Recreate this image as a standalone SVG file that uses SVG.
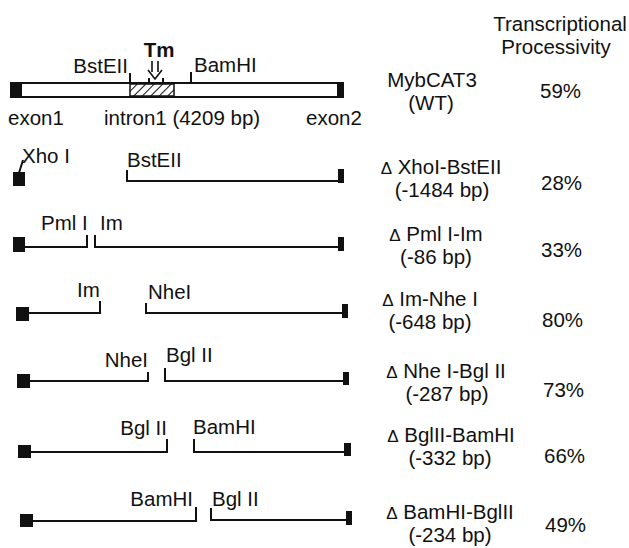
<svg xmlns="http://www.w3.org/2000/svg" width="629" height="548" viewBox="0 0 629 548">
<defs>
<pattern id="hatch" patternUnits="userSpaceOnUse" width="6" height="6" patternTransform="rotate(45)">
<line x1="0" y1="0" x2="0" y2="6" stroke="#111" stroke-width="2"/>
</pattern>
</defs>
<style>
text{font-family:"Liberation Sans",Arial,Helvetica,sans-serif;font-size:20.5px;fill:#111}
.m{text-anchor:middle}
.e{text-anchor:end}
.d{font-size:17px}
.b{font-weight:bold}
.ln{stroke:#111;stroke-width:2;fill:none}
.ex{fill:#111}
</style>
<rect width="629" height="548" fill="#fff"/>

<g id="header">
<text class="m" x="560" y="31">Transcriptional</text>
<text class="m" x="556" y="54">Processivity</text>
</g>

<g id="wt">
<rect x="11" y="83" width="332" height="14" fill="#fff" stroke="#111" stroke-width="2"/>
<rect x="130" y="84" width="44" height="12" fill="url(#hatch)" stroke="#111" stroke-width="1.5"/>
<rect class="ex" x="10" y="82" width="12" height="16"/>
<rect class="ex" x="337" y="82" width="7" height="16"/>
<path class="ln" d="M130 73V83M149 78V83M163 78V83M191 72V83"/>
<path d="M152 61V72M158 61V72M148 70L155 79L162 70" stroke="#111" stroke-width="1.6" fill="none"/>
<text class="m b" x="159" y="57">Tm</text>
<text class="e" x="128" y="73">BstEII</text>
<text x="194" y="72">BamHI</text>
<text x="8" y="125">exon1</text>
<text x="104" y="125">intron1 (4209 bp)</text>
<text x="306" y="125">exon2</text>
<text class="m" x="432" y="87">MybCAT3</text>
<text class="m" x="431" y="110">(WT)</text>
<text x="540" y="98">59%</text>
</g>

<g id="xho-bst">
<rect class="ex" x="13" y="172" width="12" height="14"/>
<path class="ln" d="M19 173L23 160" stroke-width="1.5"/>
<path class="ln" d="M127 170V181H338"/>
<rect class="ex" x="338" y="169" width="6" height="14"/>
<text x="22" y="163">Xho I</text>
<text x="127" y="167">BstEII</text>
<text class="m" x="441" y="174"><tspan class="d">Δ</tspan> XhoI-BstEII</text>
<text class="m" x="442" y="197">(-1484 bp)</text>
<text x="541" y="190">28%</text>
</g>

<g id="pml-im">
<rect class="ex" x="13" y="237" width="12" height="15"/>
<path class="ln" d="M25 247H87V235M95 235V247H338"/>
<rect class="ex" x="338" y="237" width="6" height="14"/>
<text x="41" y="230">Pml I</text>
<text x="100" y="230">Im</text>
<text class="m" x="436" y="241"><tspan class="d">Δ</tspan> Pml I-Im</text>
<text class="m" x="436" y="264">(-86 bp)</text>
<text x="541" y="257">33%</text>
</g>

<g id="im-nhe">
<rect class="ex" x="16" y="307" width="13" height="14"/>
<path class="ln" d="M29 313H100V301M146 303V313H342"/>
<rect class="ex" x="342" y="304" width="6" height="14"/>
<text x="77" y="297">Im</text>
<text x="148" y="299">NheI</text>
<text class="m" x="430" y="306"><tspan class="d">Δ</tspan> Im-Nhe I</text>
<text class="m" x="430" y="329">(-648 bp)</text>
<text x="542" y="327">80%</text>
</g>

<g id="nhe-bgl">
<rect class="ex" x="17" y="374" width="13" height="14"/>
<path class="ln" d="M30 381H148V372M165 368V381H343"/>
<rect class="ex" x="343" y="372" width="6" height="13"/>
<text class="e" x="148" y="367">NheI</text>
<text x="166" y="362">Bgl II</text>
<text class="m" x="446" y="378"><tspan class="d">Δ</tspan> Nhe I-Bgl II</text>
<text class="m" x="447" y="401">(-287 bp)</text>
<text x="543" y="397">73%</text>
</g>

<g id="bgl-bam">
<rect class="ex" x="18" y="445" width="13" height="13"/>
<path class="ln" d="M31 452H167V439M194 439V452H344"/>
<rect class="ex" x="344" y="443" width="7" height="13"/>
<text class="e" x="167" y="435">Bgl II</text>
<text x="193" y="434">BamHI</text>
<text class="m" x="451" y="442"><tspan class="d">Δ</tspan> BglII-BamHI</text>
<text class="m" x="450" y="465">(-332 bp)</text>
<text x="544" y="463">66%</text>
</g>

<g id="bam-bgl">
<rect class="ex" x="20" y="514" width="13" height="13"/>
<path class="ln" d="M33 521H196V507M211 508V520H346"/>
<rect class="ex" x="346" y="511" width="6" height="14"/>
<text class="e" x="193" y="506">BamHI</text>
<text x="212" y="506">Bgl II</text>
<text class="m" x="450" y="519"><tspan class="d">Δ</tspan> BamHI-BglII</text>
<text class="m" x="450" y="542">(-234 bp)</text>
<text x="545" y="532">49%</text>
</g>

<g id="connectors"></g>
</svg>
